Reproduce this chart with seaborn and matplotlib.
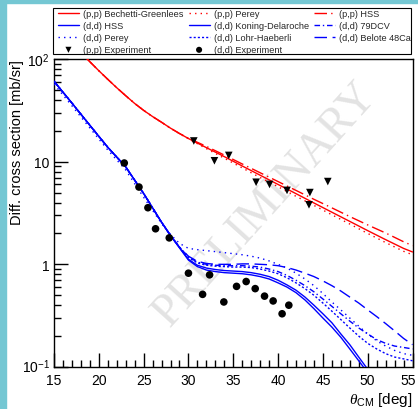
import numpy as np
import pandas as pd
import matplotlib
matplotlib.use("Agg")
import matplotlib.pyplot as plt
import matplotlib.transforms as mtransforms
from matplotlib.patches import Rectangle
from matplotlib.ticker import FixedLocator, FixedFormatter, NullFormatter
import seaborn as sns

sns.set_theme(style="white")
plt.rcParams['font.family'] = ['Liberation Sans', 'DejaVu Sans']
plt.rcParams['mathtext.fontset'] = 'custom'
plt.rcParams['mathtext.rm'] = 'Liberation Sans'
plt.rcParams['mathtext.it'] = 'Liberation Serif:italic'

# ---------------- data ----------------
# (p,p) curves
pp_x = [17, 18, 19, 20, 21, 22, 23, 24, 25, 26, 27, 28, 29, 30, 32, 34, 36, 38, 40,
        42, 44, 46, 48, 50, 52, 54, 55]
pp_bg = [144.5, 116, 94, 76.9, 63.4, 52.5, 43.9, 36.9, 31.6, 27.5, 24.2, 21.2, 18.8, 16.8,
         13.7, 11.2, 9.08, 7.38, 6.0, 4.88, 3.96, 3.22, 2.62, 2.13, 1.74, 1.43, 1.32]
pp_perey = [144.5, 116, 94, 76.9, 63.4, 52.5, 43.9, 36.9, 31.6, 27.5, 24.2, 21.2, 18.8, 16.7,
            13.4, 10.8, 8.7, 7.0, 5.7, 4.6, 3.75, 3.04, 2.47, 2.0, 1.63, 1.34, 1.24]
pp_hss = [144.5, 116, 94, 76.9, 63.4, 52.5, 43.9, 36.9, 31.6, 27.5, 24.2, 21.2, 18.8, 16.9,
          14.1, 11.6, 9.5, 7.8, 6.4, 5.25, 4.3, 3.55, 2.92, 2.42, 2.02, 1.66, 1.52]

# (d,d) curves
dd_x = [15, 17, 19, 21, 23, 25, 27, 28, 29, 30, 31, 32, 33, 34, 35, 36, 37, 38, 39, 40,
        41, 42, 43, 44, 45, 46, 47, 48, 49, 50, 51, 52, 53, 54, 55]
dd_hss = [60.7, 37.2, 22.6, 13.8, 8.9, 4.9, 2.57, 1.91, 1.45, 1.12, 0.98, 0.92, 0.89, 0.87,
          0.86, 0.85, 0.83, 0.80, 0.76, 0.70, 0.63, 0.56, 0.48, 0.40, 0.33, 0.27, 0.21,
          0.165, 0.125, 0.095, 0.07, 0.05, 0.036, 0.026, 0.02]
dd_kd = [60.7, 37.2, 22.6, 13.8, 8.9, 4.9, 2.57, 1.91, 1.45, 1.10, 0.95, 0.88, 0.85, 0.83,
         0.82, 0.81, 0.79, 0.76, 0.72, 0.66, 0.60, 0.53, 0.45, 0.37, 0.30, 0.245, 0.195,
         0.15, 0.115, 0.088, 0.065, 0.048, 0.035, 0.025, 0.019]
dd_79dcv = [60.7, 37.2, 22.6, 13.8, 8.9, 4.9, 2.57, 1.91, 1.47, 1.18, 1.05, 1.0, 0.98, 0.97,
            0.97, 0.97, 0.96, 0.94, 0.90, 0.85, 0.78, 0.70, 0.62, 0.54, 0.46, 0.39, 0.33,
            0.28, 0.24, 0.21, 0.185, 0.17, 0.16, 0.155, 0.15]
dd_perey = [57, 35, 21.3, 13.0, 8.3, 4.5, 2.5, 1.95, 1.6, 1.43, 1.39, 1.36, 1.33, 1.30,
            1.27, 1.24, 1.20, 1.15, 1.08, 1.0, 0.92, 0.82, 0.72, 0.62, 0.52, 0.43, 0.36,
            0.30, 0.25, 0.21, 0.18, 0.16, 0.145, 0.135, 0.13]
dd_lh = [60.7, 37.2, 22.6, 13.8, 8.9, 4.9, 2.57, 1.91, 1.46, 1.17, 1.03, 0.98, 0.96, 0.95,
         0.94, 0.94, 0.93, 0.90, 0.86, 0.81, 0.74, 0.66, 0.58, 0.50, 0.42, 0.35, 0.29,
         0.24, 0.20, 0.17, 0.15, 0.135, 0.125, 0.12, 0.115]
dd_belote = [60.7, 37.2, 22.6, 13.8, 8.9, 4.9, 2.57, 1.91, 1.47, 1.2, 1.07, 1.02, 1.0, 1.0,
             1.0, 1.01, 1.01, 1.0, 0.99, 0.97, 0.93, 0.88, 0.82, 0.76, 0.69, 0.62, 0.55,
             0.48, 0.42, 0.36, 0.31, 0.265, 0.225, 0.19, 0.165]

# experiments
pp_exp_x = [30.6, 32.9, 34.5, 37.55, 39.05, 41.0, 43.55, 43.45, 45.55]
pp_exp_y = [15.9, 10.2, 11.5, 6.3, 6.0, 5.25, 5.0, 3.8, 6.4]
dd_exp_x = [22.84, 24.48, 25.48, 26.33, 27.86, 30.0, 31.58, 32.36, 33.95, 35.37, 36.44,
            37.45, 38.49, 39.45, 40.45, 41.2]
dd_exp_y = [9.7, 5.66, 3.56, 2.22, 1.81, 0.82, 0.51, 0.79, 0.43, 0.61, 0.68, 0.58, 0.49,
            0.44, 0.33, 0.40]

ytick_vals = [0.1, 1, 10, 100]
ytick_labels = [r'$10^{-1}$', '1', '10', r'$10^{2}$']
xtick_vals = [15, 20, 25, 30, 35, 40, 45, 50, 55]

RED = '#ff0000'
BLUE = '#0000ff'

# ---------------- figure ----------------
fig = plt.figure(figsize=(4.18, 4.10), dpi=100)
fig.patch.set_facecolor('white')
fig.patches.append(Rectangle((0, 0), 6 / 418, 1, transform=fig.transFigure,
                             color='#74c7d3', zorder=-10))
fig.patches.append(Rectangle((0, 1 - 4 / 410), 1, 4 / 410, transform=fig.transFigure,
                             color='#74c7d3', zorder=-10))
# legend frame
fig.patches.append(Rectangle((53 / 418, 1 - 55 / 410), 358 / 418, 46 / 410,
                             transform=fig.transFigure, facecolor='none',
                             edgecolor='black', linewidth=0.8, zorder=5))

ax = fig.add_axes([54 / 418, 1 - 368 / 410, 358.5 / 418, 308 / 410])
ax.set_facecolor('white')

lw = 1.0
curves = [
    (pp_x, pp_bg, RED, '-', '(p,p) Bechetti-Greenlees'),
    (pp_x, pp_perey, RED, (0, (1, 3)), '(p,p) Perey'),
    (pp_x, pp_hss, RED, (0, (9, 3, 1, 3)), '(p,p) HSS'),
    (dd_x, dd_hss, BLUE, '-', '(d,d) HSS'),
    (dd_x, dd_kd, BLUE, '-', '(d,d) Koning-Delaroche'),
    (dd_x, dd_79dcv, BLUE, (0, (4, 2, 1, 2)), '(d,d) 79DCV'),
    (dd_x, dd_perey, BLUE, (0, (1, 3)), '(d,d) Perey'),
    (dd_x, dd_lh, BLUE, (0, (1.5, 1.5)), '(d,d) Lohr-Haeberli'),
    (dd_x, dd_belote, BLUE, (0, (9, 4)), '(d,d) Belote 48Ca'),
]
for xs, ys, c, ls, lab in curves:
    sns.lineplot(x=xs, y=ys, ax=ax, color=c, linestyle=ls, linewidth=lw, label=lab,
                 sort=False, zorder=3)

sns.scatterplot(x=pp_exp_x, y=pp_exp_y, ax=ax, marker='v', s=30, color='black',
                edgecolor='none', label='(p,p) Experiment', zorder=4)
sns.scatterplot(x=dd_exp_x, y=dd_exp_y, ax=ax, marker='o', s=30, color='black',
                edgecolor='none', label='(d,d) Experiment', zorder=4)

ax.set_yscale('log')
ax.set_xlim(15, 55)
ax.set_ylim(0.1, 100)

ax.xaxis.set_major_locator(FixedLocator(xtick_vals))
ax.xaxis.set_minor_locator(FixedLocator(np.arange(15, 56, 1)))
ax.yaxis.set_major_locator(FixedLocator(ytick_vals))
ax.yaxis.set_major_formatter(FixedFormatter(ytick_labels))
minor_y = [m * 10.0 ** e for e in range(-1, 2) for m in range(2, 10)]
ax.yaxis.set_minor_locator(FixedLocator(minor_y))
ax.yaxis.set_minor_formatter(NullFormatter())

ax.tick_params(axis='both', which='major', direction='in', length=10, width=1,
               color='black', labelsize=10, labelcolor='black')
ax.tick_params(axis='both', which='minor', direction='in', length=5, width=1,
               color='black')
ax.tick_params(axis='x', which='major', pad=4)
ax.tick_params(axis='y', which='major', pad=3)
ax.tick_params(left=True, bottom=True, which='both')

for sp in ax.spines.values():
    sp.set_color('black')
    sp.set_linewidth(1.0)
    sp.set_visible(True)

ax.set_ylabel('Diff. cross section [mb/sr]', fontsize=10.5, loc='top', color='black')
ax.yaxis.set_label_coords(-0.085, 1.0)
ax.set_xlabel(r'$\theta_{\mathrm{CM}}$ [deg]', fontsize=11, loc='right', color='black')
ax.xaxis.set_label_coords(1.0, -0.075)

# shift last x tick label slightly left so it stays in the picture
fig.canvas.draw()
for lab in ax.get_xticklabels():
    if lab.get_text() == '55':
        lab.set_transform(lab.get_transform() +
                          mtransforms.ScaledTranslation(-4 / 100, 0, fig.dpi_scale_trans))
# lift the 10^-1 label a little
for lab in ax.get_yticklabels():
    if '-1' in lab.get_text():
        lab.set_transform(lab.get_transform() +
                          mtransforms.ScaledTranslation(0, 2 / 100, fig.dpi_scale_trans))

ax.text(0.59, 0.53, 'PRELIMINARY', transform=ax.transAxes, rotation=48,
        fontsize=33, color='#e3e3e3', family='Liberation Serif', ha='center',
        va='center', zorder=0)

handles, labels = ax.get_legend_handles_labels()
hmap = dict(zip(labels, handles))
order = ['(p,p) Bechetti-Greenlees', '(d,d) HSS', '(d,d) Perey', '(p,p) Experiment',
         '(p,p) Perey', '(d,d) Koning-Delaroche', '(d,d) Lohr-Haeberli', '(d,d) Experiment',
         '(p,p) HSS', '(d,d) 79DCV', '(d,d) Belote 48Ca']
ax.legend([hmap[k] for k in order], order, ncol=3, loc='upper left',
          bbox_to_anchor=(57 / 418, 1 - 9.5 / 410),
          bbox_transform=fig.transFigure, fontsize=6.6,
          frameon=False, handlelength=2.3, handletextpad=0.45, labelspacing=0.32,
          borderpad=0.1, columnspacing=0.55, markerscale=0.8, borderaxespad=0)

fig.savefig('out.png', dpi=100, facecolor='white')
